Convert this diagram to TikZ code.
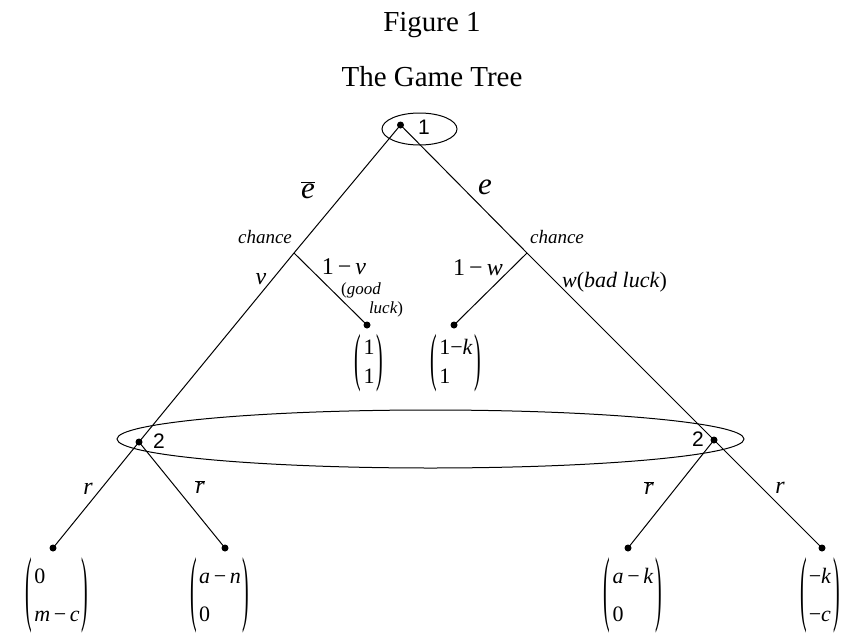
\documentclass[tikz,border=0pt]{standalone}
\usepackage{fontspec}
\usepackage{graphicx}
\setmainfont{Liberation Serif}
\newfontfamily\plfont{Liberation Sans}
\usetikzlibrary{shapes.geometric}
\newcommand{\mypay}[3]{$\vcenter{\hbox{\scalebox{0.9}[#1]{(}}}\vcenter{\hbox{\renewcommand{\arraystretch}{#2}\begin{tabular}{@{\hspace{2pt}}l@{\hspace{2pt}}}#3\end{tabular}}}\vcenter{\hbox{\scalebox{0.9}[#1]{)}}}$}
\begin{document}
\begin{tikzpicture}[x=1pt,y=-1pt,
  dotnode/.style={circle,fill,inner sep=0pt,minimum size=7pt},
  lbl/.style={inner sep=0pt},
  ttl/.style={lbl,font=\fontsize{29}{34}\selectfont},
  biglbl/.style={lbl,font=\fontsize{31}{34}\selectfont\itshape},
  midlbl/.style={lbl,font=\fontsize{24}{28}\selectfont},
  chlbl/.style={lbl,font=\fontsize{19}{22}\selectfont\itshape},
  smlbl/.style={lbl,font=\fontsize{17}{20}\selectfont\itshape},
  pllbl/.style={lbl,font=\fontsize{21}{24}\selectfont\plfont},
  pay/.style={lbl,font=\fontsize{22}{26}\selectfont},
  infoset/.style={draw,ellipse,line width=1pt,inner sep=0pt},
  edge/.style={line width=1pt}]
\useasboundingbox (0,0) rectangle (849,635);

% titles
\node[ttl] (t1) at (432,25) {Figure 1};
\node[ttl] (t2) at (432,77) {The Game Tree};

% information sets
\node[infoset,minimum width=75pt,minimum height=32pt] (is1) at (419.5,129) {};
\node[infoset,minimum width=627pt,minimum height=58pt] (is2) at (430.5,439) {};

% nodes
\node[dotnode] (root) at (400.5,125) {};
\coordinate (chL) at (294,253);
\coordinate (chR) at (527,253);
\node[dotnode] (lv) at (367,325) {};
\node[dotnode] (lw) at (454,325) {};
\node[dotnode] (nL) at (139,442) {};
\node[dotnode] (nR) at (714,440) {};
\node[dotnode] (ll) at (53,548) {};
\node[dotnode] (lr) at (225,548) {};
\node[dotnode] (rl) at (628,548) {};
\node[dotnode] (rr) at (822,548) {};

% edges
\draw[edge] (root.center) -- (chL) -- (nL.center);
\draw[edge] (root.center) -- (chR) -- (nR.center);
\draw[edge] (chL) -- (lv.center);
\draw[edge] (chR) -- (lw.center);
\draw[edge] (nL.center) -- (ll.center);
\draw[edge] (nL.center) -- (lr.center);
\draw[edge] (nR.center) -- (rl.center);
\draw[edge] (nR.center) -- (rr.center);

% player labels
\node[pllbl] (p1) at (424,127) {1};
\node[pllbl] (p2L) at (159,441) {2};
\node[pllbl] (p2R) at (698,439) {2};

% action labels
\node[biglbl] (ebar) at (308,190) {$\overline{\mbox{\itshape e}}$};
\node[biglbl] (e) at (485,187) {e};
\node[chlbl] (chanceL) at (265,237) {chance};
\node[chlbl] (chanceR) at (557,237) {chance};
\node[midlbl] (v) at (261,279) {\itshape v};
\node[midlbl] (onev) at (344,267) {1\,−\,\textit{v}};
\node[smlbl] (good) at (361,290) {\upshape(\itshape good};
\node[smlbl] (luck) at (386,309) {luck\upshape)};
\node[midlbl] (onew) at (478,268) {1\,−\,\textit{w}};
\node[lbl,font=\fontsize{22}{26}\selectfont,anchor=west] (wbad) at (562,282) {\textit{w}(\textit{bad luck})};
\node[midlbl] (rLL) at (88,489) {\itshape r};
\node[midlbl] (rLR) at (200,487) {$\overline{\mbox{\itshape r}}$};
\node[midlbl] (rRL) at (649,488) {$\overline{\mbox{\itshape r}}$};
\node[midlbl] (rRR) at (780,488) {\itshape r};

% payoffs
\node[pay] (pv) at (369,363) {\mypay{2.9}{1.15}{1\\1}};
\node[pay] (pw) at (456,363) {\mypay{2.9}{1.15}{1−\textit{k}\\1}};
\node[pay] (pll) at (57,595) {\mypay{3.8}{1.45}{0\\\textit{m}\,−\,\textit{c}\hspace{6pt}}};
\node[pay] (plr) at (220,595) {\mypay{3.8}{1.45}{\textit{a}\,−\,\textit{n}\\0}};
\node[pay] (prl) at (633,595) {\mypay{3.8}{1.45}{\textit{a}\,−\,\textit{k}\\0}};
\node[pay] (prr) at (820,595) {\mypay{3.8}{1.45}{−\textit{k}\\−\textit{c}}};
\end{tikzpicture}
\end{document}
